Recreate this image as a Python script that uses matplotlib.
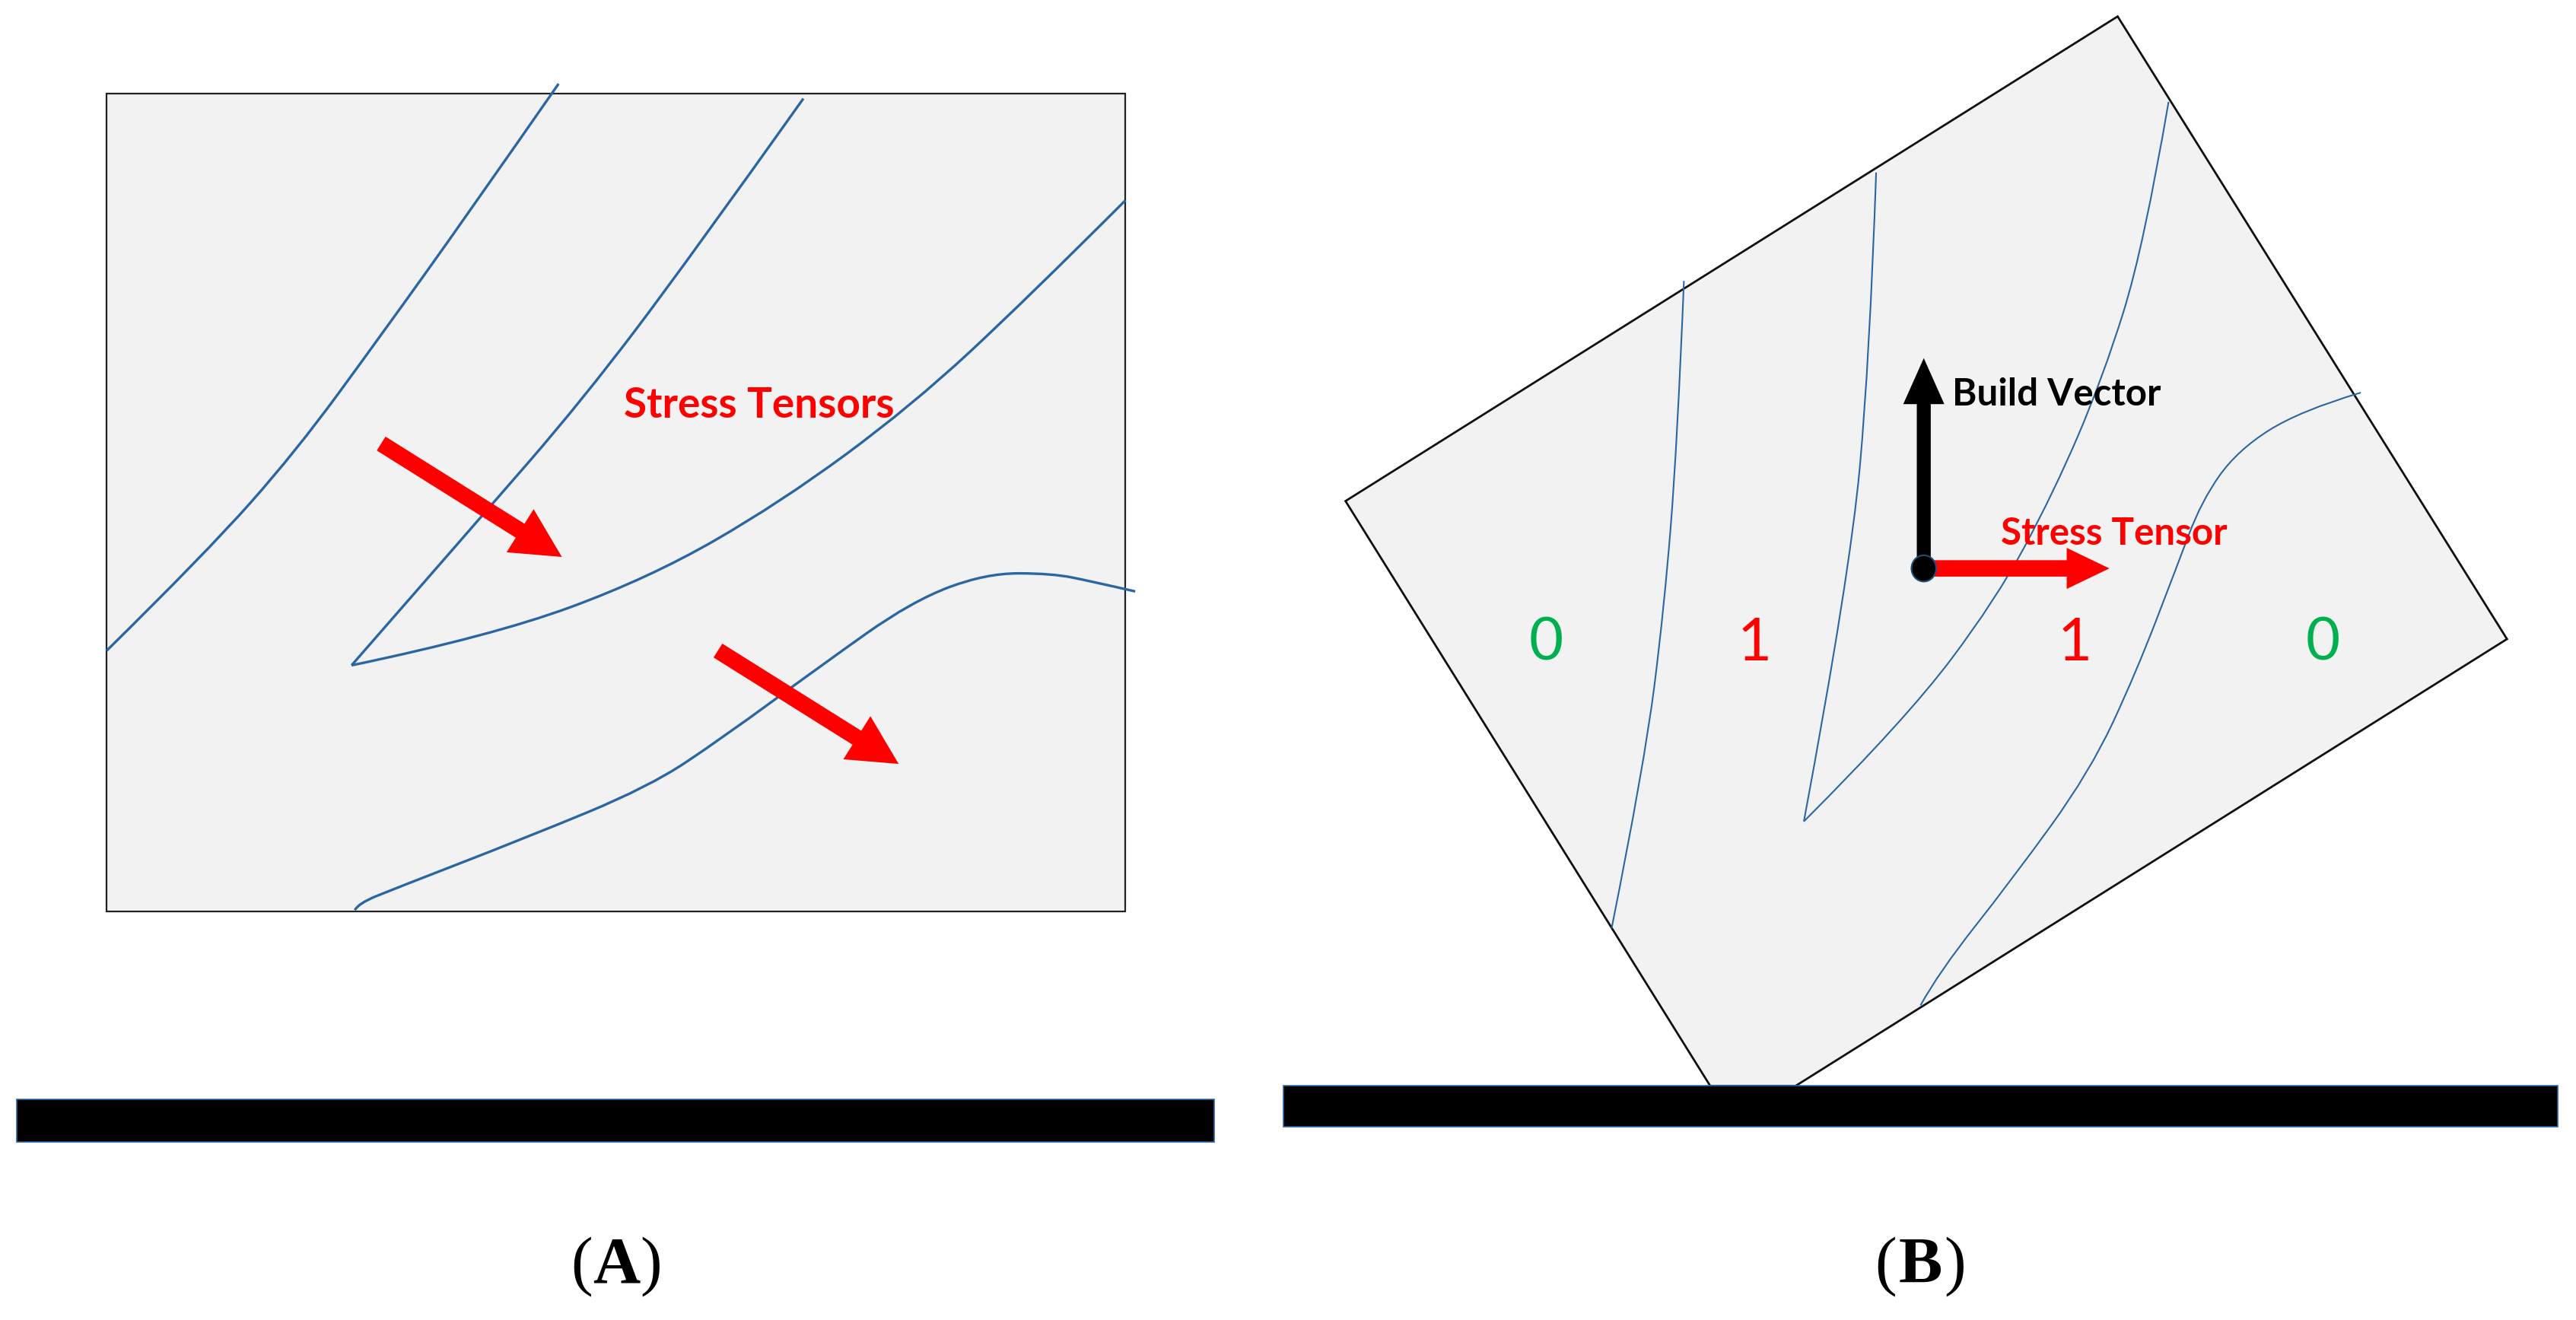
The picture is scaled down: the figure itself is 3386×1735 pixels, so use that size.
import matplotlib
matplotlib.use("Agg")
import matplotlib.pyplot as plt
from matplotlib.path import Path
from matplotlib.patches import PathPatch, Polygon, FancyArrow, Ellipse

W, H = 1568, 803.5
BLUE = "#2b66a3"
GREY = "#f2f2f2"

box_a = [(65, 57), (685, 57), (685, 555), (65, 555)]
base_a = [(10, 669), (739, 669), (739, 695), (10, 695)]
base_b = [(781, 661), (1557, 661), (1557, 686), (781, 686)]
poly_b = [(1289, 10), (1526, 389), (1093, 661), (1041, 661), (819, 305)]

curves_a = [
    [(65, 396), (125, 337), (180, 275), (232, 204), (285, 130), (340, 51)],
    [(489, 60), (420, 157), (355, 243), (290, 318), (214, 405)],
    [(214, 405), (300, 387), (395, 352), (475, 306), (555, 247), (625, 182), (685, 122)],
    [(216, 554), (218, 550), (240, 541), (320, 510), (395, 479), (440, 449), (500, 405),
     (555, 366), (600, 349), (640, 349), (665, 354), (691, 360)],
]
curves_b = [
    [(1025, 171), (1021, 270), (1013, 370), (1001, 465), (981, 565)],
    [(1142, 105), (1138, 220), (1126, 350), (1098, 500)],
    [(1098, 500), (1160, 438), (1215, 365), (1250, 300), (1280, 230), (1305, 150), (1320, 62)],
    [(1437, 239), (1400, 250), (1362, 274), (1340, 305), (1325, 345), (1300, 410),
     (1272, 470), (1225, 535), (1180, 592), (1169, 612)],
]
red_arrows = [((232, 270), (342, 339)), ((437, 396), (547, 465))]
origin = (1171, 346)
build_tip = (1171, 218)
stress_tip = (1284, 346)

region_labels = [("0", 941, "#00b050"), ("1", 1068, "#ff0000"), ("1", 1263, "#ff0000"), ("0", 1414, "#00b050")]
region_y = 392

fig = plt.figure(figsize=(33.86, 17.35), dpi=100)
ax = fig.add_axes([0, 0, 1, 1])
ax.set_xlim(0, W)
ax.set_ylim(H, 0)
ax.axis("off")


def smooth(points, lw):
    verts = [points[0]]
    codes = [Path.MOVETO]
    for i in range(1, len(points) - 1):
        c = points[i]
        n = points[i + 1]
        end = n if i == len(points) - 2 else ((c[0] + n[0]) / 2, (c[1] + n[1]) / 2)
        verts += [c, end]
        codes += [Path.CURVE3, Path.CURVE3]
    ax.add_patch(PathPatch(Path(verts, codes), fill=False, edgecolor=BLUE, lw=lw, zorder=3))


ax.add_patch(Polygon(box_a, closed=True, facecolor=GREY, edgecolor="#222222", lw=1.6, zorder=1))
ax.add_patch(Polygon(poly_b, closed=True, facecolor=GREY, edgecolor="#111111", lw=2.0, zorder=1))
for b in (base_a, base_b):
    ax.add_patch(Polygon(b, closed=True, facecolor="black", edgecolor=BLUE, lw=1.2, zorder=2))

for c in curves_a:
    smooth(c, 2.4)
for c in curves_b:
    smooth(c, 1.5)

for (x0, y0), (x1, y1) in red_arrows:
    ax.add_patch(FancyArrow(x0, y0, x1 - x0, y1 - y0, width=10, head_width=31, head_length=30,
                            length_includes_head=True, color="#ff0000", lw=0, zorder=4))

ax.add_patch(FancyArrow(origin[0], origin[1], build_tip[0] - origin[0], build_tip[1] - origin[1],
                        width=8.5, head_width=25, head_length=28, length_includes_head=True,
                        color="black", lw=0, zorder=4))
ax.add_patch(FancyArrow(origin[0], origin[1], stress_tip[0] - origin[0], stress_tip[1] - origin[1],
                        width=10, head_width=25, head_length=26, length_includes_head=True,
                        color="#ff0000", lw=0, zorder=4))
ax.add_patch(Ellipse(origin, 15, 16, facecolor="black", edgecolor="#1f4e79", lw=1.5, zorder=5))

ax.text(462, 247, "Stress Tensors", color="#ff0000", fontsize=39.5, fontweight="bold",
        family="Lato", ha="center", va="center", zorder=6)
ax.text(1252, 240, "Build Vector", color="black", fontsize=35.5, fontweight="bold",
        family="Lato", ha="center", va="center", zorder=6)
ax.text(1287, 325, "Stress Tensor", color="#ff0000", fontsize=35.5, fontweight="bold",
        family="Lato", ha="center", va="center", zorder=6)
for s, x, col in region_labels:
    ax.text(x, region_y, s, color=col, fontsize=56, family="Lato", ha="center", va="center", zorder=6)

for tag, cx in (("A", 375), ("B", 1169)):
    ax.text(cx - 14.5, 771, "(", fontsize=62, family="Liberation Serif", ha="right", va="center")
    ax.text(cx, 771, tag, fontsize=62, family="Liberation Serif", fontweight="bold", ha="center", va="center")
    ax.text(cx + 14.5, 771, ")", fontsize=62, family="Liberation Serif", ha="left", va="center")

fig.savefig("out.png", dpi=100, facecolor="white")
